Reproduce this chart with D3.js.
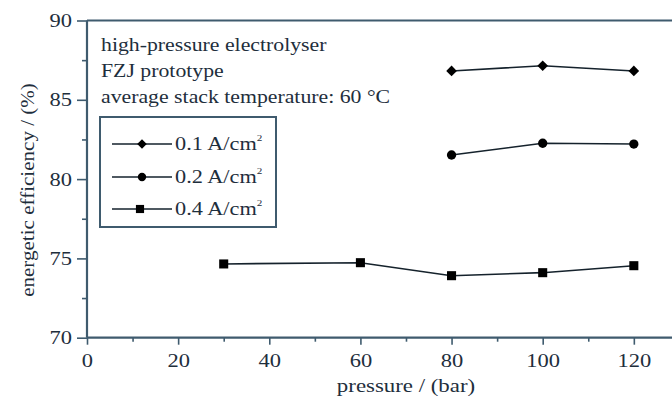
<!DOCTYPE html>
<html>
<head>
<meta charset="utf-8">
<script src="https://cdn.jsdelivr.net/npm/d3@7"></script>
<style>
  html, body { margin: 0; padding: 0; background: #fff; }
  svg { display: block; }
</style>
</head>
<body>
<svg id="chart" width="672" height="399"></svg>
<script>
// ---- data ----
const pressure01 = [80, 100, 120];
const eff01 = [86.82, 87.15, 86.82];
const pressure02 = [80, 100, 120];
const eff02 = [81.52, 82.26, 82.21];
const pressure04 = [30, 60, 80, 100, 120];
const eff04 = [74.65, 74.73, 73.91, 74.10, 74.54];

const seriesNames = ["0.1 A/cm", "0.2 A/cm", "0.4 A/cm"];
const seriesMarkers = ["diamond", "circle", "square"];
const xTicks = [0, 20, 40, 60, 80, 100, 120];
const yTicks = [70, 75, 80, 85, 90];
const annotation = ["high-pressure electrolyser", "FZJ prototype", "average stack temperature: 60 \u00B0C"];
const xTitle = "pressure / (bar)";
const yTitle = "energetic efficiency / (%)";

// ---- layout ----
const FONT = "Liberation Serif";
const TXT = "#1e2e3c";
const svg = d3.select("#chart");
const x = d3.scaleLinear().domain([0, 130]).range([87, 679.4]);
const y = d3.scaleLinear().domain([70, 90]).range([337.7, 20.5]);
const axisColor = "#3f5b6e";
const lineColor = "#15222c";

function styleText(sel, size) {
  return sel.style("font-family", FONT).style("font-size", size + "px").style("fill", TXT);
}

// x axis minor ticks
const gxMinor = svg.append("g").attr("transform", `translate(0,${y(70)})`)
  .call(d3.axisBottom(x).tickValues(d3.range(10, 130, 20)).tickSize(4).tickFormat(""));
gxMinor.select(".domain").remove();
gxMinor.selectAll("line").attr("stroke", axisColor).attr("stroke-width", 1.6);

const gx = svg.append("g").attr("transform", `translate(0,${y(70)})`)
  .call(d3.axisBottom(x).tickValues(xTicks).tickSize(7).tickPadding(10).tickFormat(d3.format("d")));
gx.select(".domain").remove();
gx.selectAll("line").attr("stroke", axisColor).attr("stroke-width", 1.6);
styleText(gx.selectAll("text"), 18).attr("transform", "scale(1.25,1)");

// y axis minor ticks
const gyMinor = svg.append("g").attr("transform", `translate(${x(0)},0)`)
  .call(d3.axisLeft(y).tickValues([72.5, 77.5, 82.5, 87.5]).tickSize(5).tickFormat(""));
gyMinor.select(".domain").remove();
gyMinor.selectAll("line").attr("stroke", axisColor).attr("stroke-width", 1.6);

const gy = svg.append("g").attr("transform", `translate(${x(0)},0)`)
  .call(d3.axisLeft(y).tickValues(yTicks).tickSize(10).tickPadding(5).tickFormat(d3.format("d")));
gy.select(".domain").remove();
gy.selectAll("line").attr("stroke", axisColor).attr("stroke-width", 1.6);
styleText(gy.selectAll("text"), 18).attr("dy", "0.34em")
  .attr("x", -15 / 1.25).attr("transform", "scale(1.25,1)");

// axis lines (left, bottom, top)
svg.append("line").attr("x1", x(0)).attr("x2", x(0)).attr("y1", y(90)).attr("y2", y(70))
  .attr("stroke", axisColor).attr("stroke-width", 2.2);
svg.append("line").attr("x1", x(0)).attr("x2", 672).attr("y1", y(70)).attr("y2", y(70))
  .attr("stroke", axisColor).attr("stroke-width", 2.2);
svg.append("line").attr("x1", x(0)).attr("x2", 672).attr("y1", y(90)).attr("y2", y(90))
  .attr("stroke", axisColor).attr("stroke-width", 2.2);

// axis titles
styleText(svg.append("text").attr("transform", "translate(406,392) scale(1.27,1)")
  .attr("text-anchor", "middle").text(xTitle), 18);
styleText(svg.append("text").attr("transform", "translate(34,190) rotate(-90) scale(1.17,1)")
  .attr("text-anchor", "middle").text(yTitle), 18);

// annotation
annotation.forEach((t, i) => {
  styleText(svg.append("text").attr("transform", `translate(101,${51 + i * 26}) scale(1.21,1)`).text(t), 18);
});

// markers
const symbolMap = {
  diamond: d3.symbol().type(d3.symbolDiamond2).size(72),
  circle: d3.symbol().type(d3.symbolCircle).size(68),
  square: d3.symbol().type(d3.symbolSquare).size(82)
};

const series = [
  { xs: pressure01, ys: eff01, marker: seriesMarkers[0] },
  { xs: pressure02, ys: eff02, marker: seriesMarkers[1] },
  { xs: pressure04, ys: eff04, marker: seriesMarkers[2] }
];

const line = d3.line().x(d => x(d[0])).y(d => y(d[1]));
series.forEach(s => {
  const pts = s.xs.map((v, i) => [v, s.ys[i]]);
  svg.append("path").attr("d", line(pts)).attr("fill", "none")
    .attr("stroke", lineColor).attr("stroke-width", 1.6);
  svg.selectAll(null).data(pts).enter().append("path")
    .attr("d", symbolMap[s.marker])
    .attr("transform", d => `translate(${x(d[0])},${y(d[1])})`)
    .attr("fill", "#000");
});

// legend
const legend = svg.append("g");
legend.append("rect").attr("x", 100).attr("y", 117).attr("width", 176).attr("height", 110)
  .attr("fill", "none").attr("stroke", axisColor).attr("stroke-width", 2);
const legendRows = [144, 177, 209];
seriesNames.forEach((name, i) => {
  const ry = legendRows[i];
  legend.append("line").attr("x1", 112).attr("x2", 172).attr("y1", ry).attr("y2", ry)
    .attr("stroke", lineColor).attr("stroke-width", 1.6);
  legend.append("path").attr("d", symbolMap[seriesMarkers[i]])
    .attr("transform", `translate(${i === 2 ? 140 : 142},${ry}) scale(0.9)`).attr("fill", "#000");
  const t = styleText(legend.append("text").attr("transform", `translate(175,${ry + 6}) scale(1.24,1)`), 18);
  t.append("tspan").text(name);
  t.append("tspan").style("font-size", "9px").attr("dy", -9).text("2");
});
</script>
</body>
</html>
